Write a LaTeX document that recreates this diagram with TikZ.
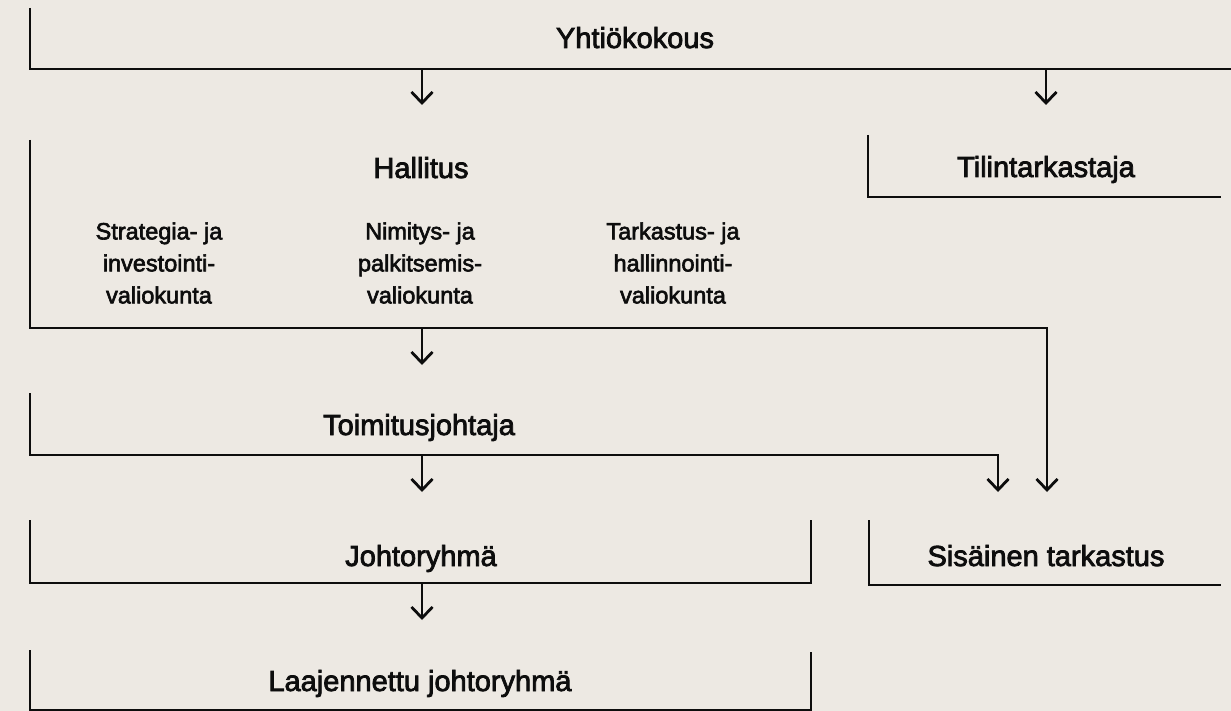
\documentclass[tikz,border=0pt]{standalone}
\usepackage{fontspec}
\setmainfont{Liberation Sans}[FakeBold=2.6]
\usetikzlibrary{arrows.meta}
\definecolor{bg}{HTML}{EDE9E3}
\definecolor{ink}{HTML}{0D0D0D}
\begin{document}
\begin{tikzpicture}[x=1pt,y=-1pt,
  line/.style={draw=ink,line width=2.8pt},
  arr/.style={line,-{Straight Barb[length=11pt,width=21pt]}},
  lbl/.style={font=\fontsize{29}{34}\selectfont,anchor=base,inner sep=0pt,text=ink},
  sub/.style={font=\fontsize{23.5}{32}\selectfont,align=center,anchor=center,inner sep=0pt,text=ink}]
\fill[bg] (0,0) rectangle (1231,711);
\useasboundingbox (0,0) rectangle (1231,711);

% labels
\node[lbl] (yk) at (635,48) {Yhtiökokous};
\node[lbl] (hal) at (421,178) {Hallitus};
\node[lbl] (tt) at (1046,177) {Tilintarkastaja};
\node[sub] (sv) at (159,263) {Strategia- ja\\investointi-\\valiokunta};
\node[sub] (nv) at (420,263) {Nimitys- ja\\palkitsemis-\\valiokunta};
\node[sub] (tv) at (673,263) {Tarkastus- ja\\hallinnointi-\\valiokunta};
\node[lbl] (tj) at (419,435) {Toimitusjohtaja};
\node[lbl] (jr) at (421,566) {Johtoryhmä};
\node[lbl] (st) at (1046,566) {Sisäinen tarkastus};
\node[lbl] (ljr) at (420,691) {Laajennettu johtoryhmä};

% bracket coordinates
\coordinate (ykA) at (30,8);   \coordinate (ykB) at (30,69);   \coordinate (ykC) at (1231,69);
\coordinate (ykO1) at (422,69); \coordinate (ykO2) at (1046,69);
\coordinate (halIn) at (422,105);
\coordinate (ttIn) at (1046,105);
\coordinate (halA) at (30,140); \coordinate (halB) at (30,328); \coordinate (halC) at (1047,328);
\coordinate (halO) at (422,328);
\coordinate (tjIn) at (422,365);
\coordinate (ttA) at (868,135); \coordinate (ttB) at (868,197); \coordinate (ttC) at (1221,197);
\coordinate (tjA) at (30,393); \coordinate (tjB) at (30,455); \coordinate (tjC) at (998,455);
\coordinate (tjO) at (422,455);
\coordinate (jrIn) at (422,492);
\coordinate (stIn1) at (998,492); \coordinate (stIn2) at (1047,492);
\coordinate (jrA) at (30,520); \coordinate (jrB) at (30,583); \coordinate (jrC) at (811,583); \coordinate (jrD) at (811,520);
\coordinate (jrO) at (422,583);
\coordinate (ljrIn) at (422,620);
\coordinate (stA) at (869,520); \coordinate (stB) at (869,585); \coordinate (stC) at (1221,585);
\coordinate (ljA) at (30,650); \coordinate (ljB) at (30,710); \coordinate (ljC) at (811,710); \coordinate (ljD) at (811,652);

% brackets
\draw[line] (ykA) -- (ykB) -- (ykC);
\draw[line] (ttA) -- (ttB) -- (ttC);
\draw[line] (jrA) -- (jrB) -- (jrC) -- (jrD);
\draw[line] (stA) -- (stB) -- (stC);
\draw[line] (ljA) -- (ljB) -- (ljC) -- (ljD);

% connectors
\draw[arr] (ykO1) -- (halIn);
\draw[arr] (ykO2) -- (ttIn);
\draw[arr] (halA) -- (halB) -- (halC) -- (stIn2);
\draw[arr] (halO) -- (tjIn);
\draw[arr] (tjA) -- (tjB) -- (tjC) -- (stIn1);
\draw[arr] (tjO) -- (jrIn);
\draw[arr] (jrO) -- (ljrIn);
\end{tikzpicture}
\end{document}
